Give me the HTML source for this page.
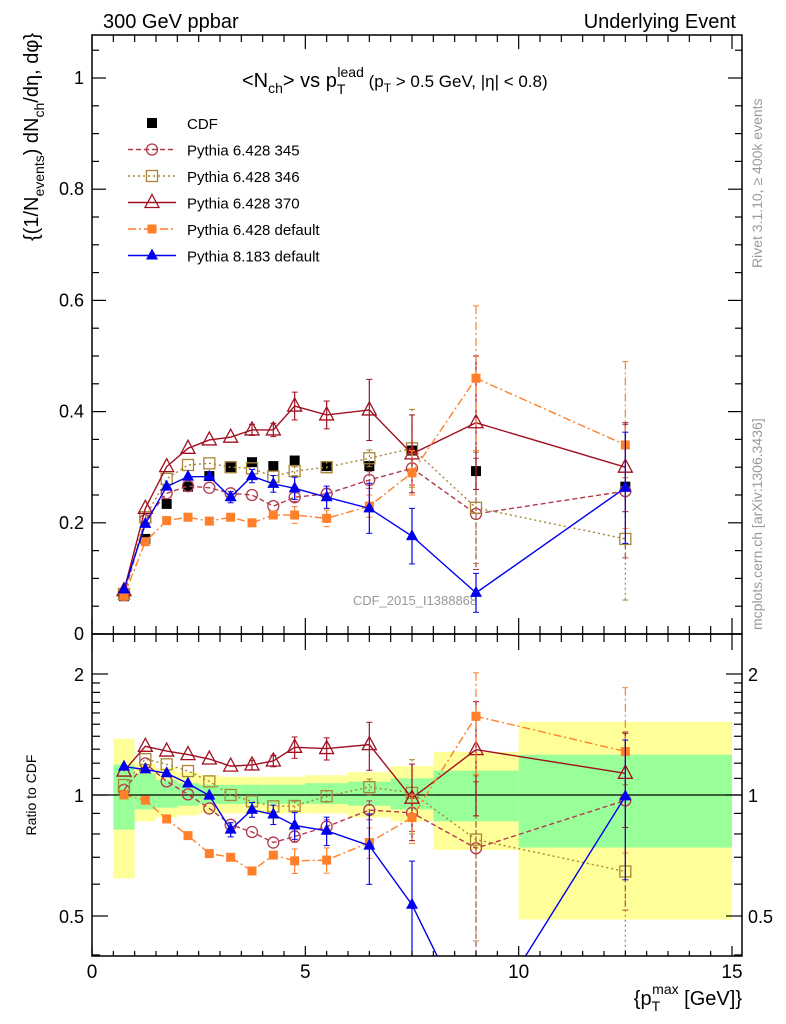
<!DOCTYPE html>
<html><head><meta charset="utf-8">
<style>
html,body{margin:0;padding:0;background:#fff;overflow:hidden;}
svg{display:block;font-family:"Liberation Sans",sans-serif;}
</style></head>
<body>
<svg id="chart" width="786" height="1024" viewBox="0 0 786 1024" xmlns="http://www.w3.org/2000/svg">
<text x="103" y="28" font-size="20">300 GeV ppbar</text>
<text x="736" y="28" font-size="20" text-anchor="end">Underlying Event</text>
<text x="242" y="87" font-size="20">&lt;N<tspan font-size="14" dy="6">ch</tspan><tspan dy="-6">&gt; vs p</tspan><tspan font-size="14" dy="7">T</tspan><tspan font-size="14" dx="-8" dy="-17">lead</tspan><tspan font-size="17" dy="10"> (p</tspan><tspan font-size="12" dy="5">T</tspan><tspan font-size="17" dy="-5"> &gt; 0.5 GeV, |η| &lt; 0.8)</tspan></text>
<text transform="translate(762,268) rotate(-90)" font-size="14" fill="#999">Rivet 3.1.10, ≥ 400k events</text>
<text transform="translate(762,630) rotate(-90)" font-size="14" fill="#999">mcplots.cern.ch [arXiv:1306.3436]</text>
<text transform="translate(38,33) rotate(-90)" font-size="20" text-anchor="end">{(1/N<tspan font-size="14" dy="6">events</tspan><tspan dy="-6">) dN</tspan><tspan font-size="14" dy="6">ch</tspan><tspan dy="-6">/dη, dφ}</tspan></text>
<text transform="translate(36,795) rotate(-90)" font-size="14" text-anchor="middle">Ratio to CDF</text>
<text x="742" y="1005" font-size="20" text-anchor="end">{p<tspan font-size="14" dy="6">T</tspan><tspan font-size="14" dx="-8" dy="-17">max</tspan><tspan dy="11"> [GeV]}</tspan></text>
<text x="415" y="605" font-size="13" fill="#999" text-anchor="middle">CDF_2015_I1388868</text>
<g id="band"></g><g id="marks"></g><g id="axes"></g><g id="legend"></g>
</svg>
<script>
const xs = [0.75,1.25,1.75,2.25,2.75,3.25,3.75,4.25,4.75,5.5,6.5,7.5,9,12.5];
const cdf = [0.068,0.171,0.234,0.265,0.284,0.300,0.309,0.302,0.312,0.302,0.302,0.330,0.293,0.265];
const cdfErr = [0.003,0.004,0.004,0.005,0.005,0.005,0.006,0.006,0.006,0.006,0.007,0.01,0.012,0.015];
const p345 = [0.070,0.205,0.253,0.266,0.263,0.253,0.250,0.230,0.246,0.252,0.277,0.298,0.216,0.257];
const p345Err = [0,0,0,0,0,0,0,0,0.008,0.01,0.015,0.03,0.1,0.12];
const p346 = [0.072,0.210,0.279,0.304,0.307,0.300,0.298,0.283,0.293,0.300,0.316,0.334,0.227,0.171];
const p346Err = [0,0,0,0,0,0,0,0,0.008,0.01,0.015,0.07,0.1,0.11];
const p370 = [0.078,0.226,0.301,0.334,0.349,0.354,0.367,0.367,0.410,0.394,0.403,0.324,0.380,0.300];
const p370Err = [0,0,0,0,0,0,0.01,0.012,0.025,0.025,0.055,0.07,0.12,0.08];
const pdef = [0.068,0.166,0.204,0.210,0.203,0.210,0.200,0.214,0.214,0.208,0.230,0.290,0.460,0.340];
const pdefErr = [0,0,0,0,0,0,0,0,0.015,0.015,0.02,0.04,0.13,0.15];
const p8 = [0.080,0.198,0.265,0.283,0.283,0.246,0.284,0.270,0.262,0.246,0.226,0.176,0.074,0.263];
const p8Err = [0,0,0,0,0,0.01,0.012,0.015,0.02,0.02,0.045,0.05,0.035,0.1];
const bandEdges = [0.5,1,1.5,2,2.5,3,3.5,4,4.5,5,6,7,8,10,15];
const bandYellowLo = [0.62,0.86,0.88,0.89,0.9,0.9,0.9,0.9,0.9,0.9,0.88,0.86,0.73,0.49];
const bandYellowHi = [1.38,1.2,1.17,1.14,1.12,1.11,1.11,1.11,1.11,1.12,1.14,1.18,1.28,1.52];
const bandGreenLo = [0.82,0.92,0.93,0.94,0.95,0.95,0.95,0.95,0.95,0.95,0.94,0.92,0.86,0.74];
const bandGreenHi = [1.19,1.13,1.09,1.07,1.06,1.06,1.06,1.06,1.06,1.07,1.08,1.1,1.15,1.26];
const mainTicks = ["0","0.2","0.4","0.6","0.8","1"];
const xTicks = ["0","5","10","15"];

const NS="http://www.w3.org/2000/svg";
const L=92,R=742,T=35,MB=634,RB=956;
const X=v=>92+v*(732-92)/15;
const Y=v=>634-v*556;
const YR=v=>795-121*Math.log2(v);
function mk(tag,attrs,parent){const e=document.createElementNS(NS,tag);for(const k in attrs)e.setAttribute(k,attrs[k]);parent.appendChild(e);return e;}
const band=document.getElementById('band'),marks=document.getElementById('marks'),axes=document.getElementById('axes'),legend=document.getElementById('legend');
const clipD=mk('defs',{},document.getElementById('chart'));
const cp1=mk('clipPath',{id:'cm'},clipD);mk('rect',{x:L,y:T,width:R-L,height:MB-T},cp1);
const cp2=mk('clipPath',{id:'cr'},clipD);mk('rect',{x:L,y:MB,width:R-L,height:RB-MB},cp2);

for(let i=0;i<bandYellowLo.length;i++){
  const x0=X(bandEdges[i]),x1=X(bandEdges[i+1]);
  let r=mk('rect',{x:x0,y:YR(bandYellowHi[i]),width:x1-x0,height:YR(bandYellowLo[i])-YR(bandYellowHi[i]),fill:'#ffff99'},band);
  
  
  r=mk('rect',{x:x0,y:YR(bandGreenHi[i]),width:x1-x0,height:YR(bandGreenLo[i])-YR(bandGreenHi[i]),fill:'#99ff99'},band);
  
  
}
mk('line',{x1:L,x2:R,y1:YR(1),y2:YR(1),stroke:'#000','stroke-width':1.2},band);

const series=[
 {name:'pythia-6428-345',vals:p345,err:p345Err,color:'#b23a4f',dash:'5,3',marker:'circle',label:'Pythia 6.428 345'},
 {name:'pythia-6428-346',vals:p346,err:p346Err,color:'#a88537',dash:'2,3',marker:'osquare',label:'Pythia 6.428 346'},
 {name:'pythia-6428-370',vals:p370,err:p370Err,color:'#a01020',dash:'',marker:'otri',label:'Pythia 6.428 370'},
 {name:'pythia-6428-default',vals:pdef,err:pdefErr,color:'#ff7f2a',dash:'8,3,2,3',marker:'fsquare',label:'Pythia 6.428 default'},
 {name:'pythia-8183-default',vals:p8,err:p8Err,color:'#0000ee',dash:'',marker:'ftri',label:'Pythia 8.183 default'}
];
function marker(g,type,x,y,c){
  if(type==='circle')return mk('circle',{cx:x,cy:y,r:5.5,fill:'none',stroke:c,'stroke-width':1.3},g);
  if(type==='osquare')return mk('rect',{x:x-5.5,y:y-5.5,width:11,height:11,fill:'none',stroke:c,'stroke-width':1.3},g);
  if(type==='fsquare')return mk('rect',{x:x-4.5,y:y-4.5,width:9,height:9,fill:c},g);
  if(type==='bsquare')return mk('rect',{x:x-5,y:y-5,width:10,height:10,fill:'#000'},g);
  if(type==='otri')return mk('path',{d:`M${x},${y-8}L${x+7},${y+5}L${x-7},${y+5}Z`,fill:'none',stroke:c,'stroke-width':1.3},g);
  if(type==='ftri')return mk('path',{d:`M${x},${y-7}L${x+6},${y+4}L${x-6},${y+4}Z`,fill:c},g);
}
function drawSeries(s,vals,errs,Yf,clip,suffix){
  const g=mk('g',{'clip-path':`url(#${clip})`},marks);
  
  
  mk('polyline',{points:xs.map((x,i)=>X(x)+','+Yf(vals[i])).join(' '),fill:'none',stroke:s.color,'stroke-width':1.4,'stroke-dasharray':s.dash},g);
  xs.forEach((x,i)=>{
    if(errs[i]>0){const lo=Math.max(vals[i]-errs[i],0.01);
      mk('line',{x1:X(x),x2:X(x),y1:Yf(vals[i]+errs[i]),y2:Yf(lo),stroke:s.color,'stroke-width':1.2,'stroke-dasharray':s.dash},g);
      mk('line',{x1:X(x)-3,x2:X(x)+3,y1:Yf(vals[i]+errs[i]),y2:Yf(vals[i]+errs[i]),stroke:s.color},g);
      mk('line',{x1:X(x)-3,x2:X(x)+3,y1:Yf(lo),y2:Yf(lo),stroke:s.color},g);}
    const m=marker(g,s.marker,X(x),Yf(vals[i]),s.color);
    
    
  });
}
{const g=mk('g',{},marks);
 
 
 xs.forEach((x,i)=>{
  mk('line',{x1:X(x),x2:X(x),y1:Y(cdf[i]+cdfErr[i]),y2:Y(cdf[i]-cdfErr[i]),stroke:'#000'},g);
  const m=marker(g,'bsquare',X(x),Y(cdf[i]),'#000');
  
  
 });}
series.forEach(s=>{
  drawSeries(s,s.vals,s.err,Y,'cm','');
  drawSeries(s,s.vals.map((v,i)=>v/cdf[i]),s.err.map((e,i)=>e/cdf[i]),YR,'cr','-ratio');
});

const fr=mk('g',{},axes);


mk('rect',{x:L,y:T,width:R-L,height:MB-T,fill:'none',stroke:'#000','stroke-width':1.5},fr);
mk('rect',{x:L,y:MB,width:R-L,height:RB-MB,fill:'none',stroke:'#000','stroke-width':1.5},fr);
function tick(x1,y1,x2,y2){mk('line',{x1,y1,x2,y2,stroke:'#000','stroke-width':1.2},fr);}
for(let k=0;k<=21;k++){const v=k*0.05,y=Y(v);if(y<T)continue;const len=(k%4===0)?14:7;tick(L,y,L+len,y);tick(R,y,R-len,y);}
mainTicks.forEach(t=>{const e=mk('text',{x:L-8,y:Y(+t)+6,'font-size':18,'text-anchor':'end'},fr);e.textContent=t;
  
  });
for(let k=0;k<=31;k++){const v=k*0.5,x=X(v);if(x>R)continue;const big=(k%10===0);
  tick(x,MB,x,MB-(big?16:8));tick(x,MB,x,MB+(big?16:8));tick(x,RB,x,RB-(big?10:5));tick(x,T,x,T+(big?14:7));}
xTicks.forEach(t=>{const e=mk('text',{x:X(+t),y:RB+22,'font-size':19,'text-anchor':'middle'},fr);e.textContent=t;
  
  });
[0.4,0.5,0.6,0.7,0.8,0.9,1,2].forEach(v=>{const y=YR(v);const len=(v===0.5||v===1||v===2)?16:8;tick(L,y,L+len,y);tick(R,y,R-len,y);});
for(let v=1.1;v<2;v+=0.1){const y=YR(v);tick(L,y,L+8,y);tick(R,y,R-8,y);}
[["0.5",0.5],["1",1],["2",2]].forEach(([t,v])=>{
  let e=mk('text',{x:L-8,y:YR(v)+7,'font-size':18,'text-anchor':'end'},fr);e.textContent=t;
  
  
  e=mk('text',{x:R+6,y:YR(v)+7,'font-size':18},fr);e.textContent=t;
  
  });

const leg=[{label:'CDF',marker:'bsquare',color:'#000',dash:''}].concat(series);
leg.forEach((s,i)=>{
  const y=123+i*26.5;
  const g=mk('g',{},legend);
  
  
  if(i>0)mk('line',{x1:128,x2:176,y1:y,y2:y,stroke:s.color,'stroke-width':1.4,'stroke-dasharray':s.dash},g);
  marker(g,s.marker,152,y,s.color);
  const t=mk('text',{x:187,y:y+6,'font-size':15},g);t.textContent=s.label;
});
</script>
</body></html>
